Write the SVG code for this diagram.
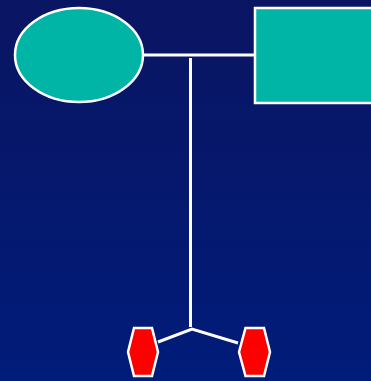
<svg xmlns="http://www.w3.org/2000/svg" width="371" height="381" viewBox="0 0 371 381">
<defs>
<linearGradient id="bg" x1="0" y1="0" x2="0" y2="1">
<stop offset="0" stop-color="#0a1562"/>
<stop offset="1" stop-color="#001c7a"/>
</linearGradient>
<style>
.teal{fill:#00b5a5;stroke:#ffffff;stroke-width:2.5}
.hex{fill:#ff0000;stroke:#ffffff;stroke-width:2.5}
.ln{stroke:#ffffff;stroke-width:3;fill:none}
</style>
</defs>
<rect x="0" y="0" width="371" height="381" fill="url(#bg)"/>
<g id="connectors">
<line class="ln" x1="143" y1="55" x2="255" y2="55"/>
<line class="ln" x1="190.5" y1="58" x2="190.5" y2="327"/>
<polyline class="ln" points="158,342 192,329 238,343"/>
</g>
<g id="ellipse"><ellipse class="teal" cx="79" cy="55" rx="64" ry="47"/></g>
<g id="rect"><rect class="teal" x="255" y="8" width="120" height="95"/></g>
<g id="hex1"><polygon class="hex" points="128,352 134,328 152,328 158,352 152,376 134,376"/></g>
<g id="hex2"><polygon class="hex" points="239,352 245.5,328 264,328 270,352 264,376 245.5,376"/></g>
</svg>
